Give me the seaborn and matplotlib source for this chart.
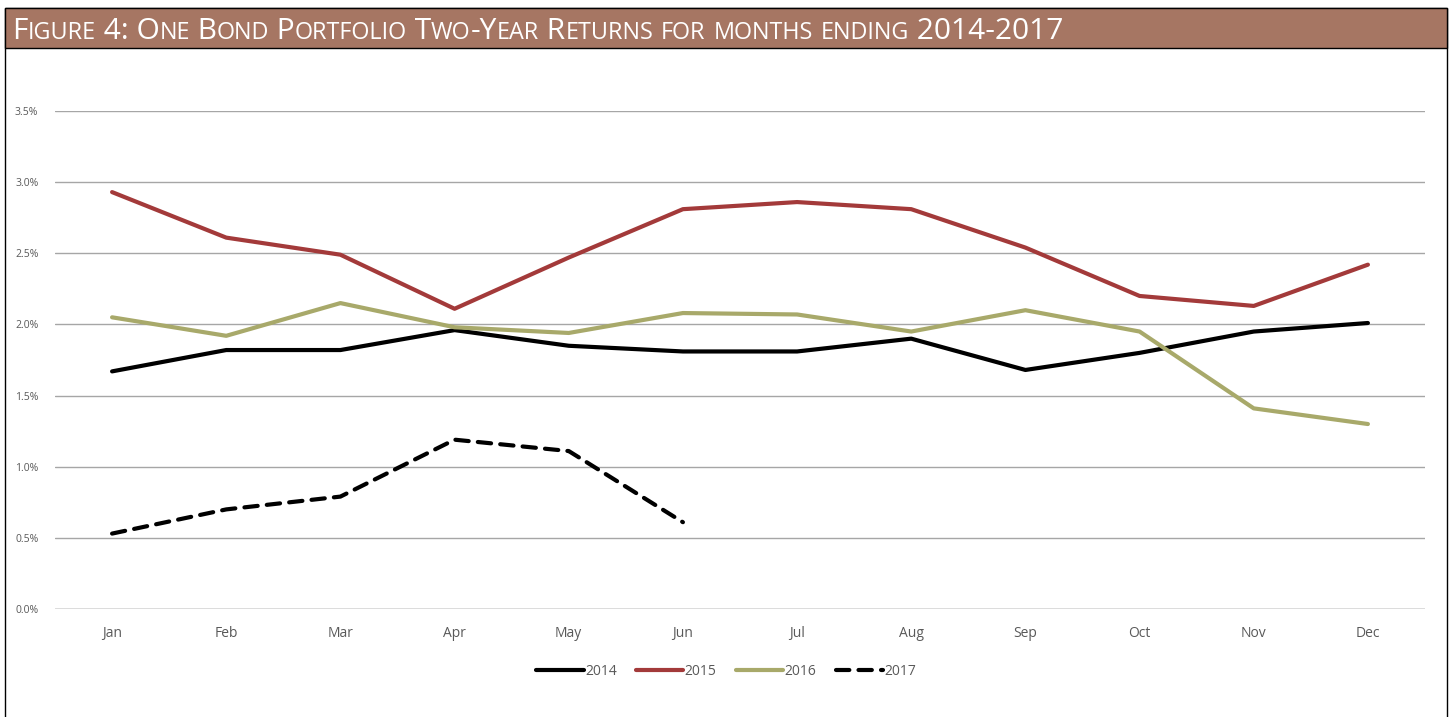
import pandas as pd
import matplotlib.pyplot as plt
import seaborn as sns
from matplotlib.patches import Rectangle
from matplotlib.ticker import FuncFormatter

# Data (two-year returns, %)
months = ["Jan", "Feb", "Mar", "Apr", "May", "Jun", "Jul", "Aug", "Sep", "Oct", "Nov", "Dec"]
r2014 = [1.67, 1.82, 1.82, 1.96, 1.85, 1.81, 1.81, 1.90, 1.68, 1.80, 1.95, 2.01]
r2015 = [2.93, 2.61, 2.49, 2.11, 2.47, 2.81, 2.86, 2.81, 2.54, 2.20, 2.13, 2.42]
r2016 = [2.05, 1.92, 2.15, 1.98, 1.94, 2.08, 2.07, 1.95, 2.10, 1.95, 1.41, 1.30]
r2017 = [0.53, 0.70, 0.79, 1.19, 1.11, 0.61]
years = ["2014", "2015", "2016", "2017"]

frames = []
for yr, vals in zip(years, [r2014, r2015, r2016, r2017]):
    frames.append(pd.DataFrame({"month": months[:len(vals)], "ret": vals, "year": yr}))
df = pd.concat(frames, ignore_index=True)

sns.set_style("white")
plt.rcParams["font.family"] = ["Open Sans", "DejaVu Sans"]

fig = plt.figure(figsize=(14.49, 7.17), dpi=100)
ax = fig.add_axes([55 / 1449, 1 - 609 / 717, 1370 / 1449, 498 / 717])

palette = {"2014": "#000000", "2015": "#A33A3A", "2016": "#A8A96A", "2017": "#000000"}
dashes = {"2014": "", "2015": "", "2016": "", "2017": (3.2, 2.2)}
sns.lineplot(data=df, x="month", y="ret", hue="year", style="year", palette=palette,
             dashes=dashes, linewidth=3, sort=False, ax=ax, legend=True)
for ln in ax.lines:
    ln.set_solid_capstyle("round")
    ln.set_dash_capstyle("round")
    ln.set_solid_joinstyle("round")

ax.set_xlim(-0.5, 11.5)
ax.set_ylim(0, 3.5)
ax.set_yticks([0, 0.5, 1.0, 1.5, 2.0, 2.5, 3.0, 3.5])
ax.yaxis.set_major_formatter(FuncFormatter(lambda v, p: f"{v:.1f}%"))
ax.grid(axis="y", color="#A6A6A6", linewidth=1)
ax.set_axisbelow(True)
for s in ax.spines.values():
    s.set_visible(False)
ax.axhline(0, color="#D9D9D9", linewidth=1.2, zorder=1)
ax.set_xlabel("")
ax.set_ylabel("")
ax.tick_params(axis="x", labelsize=10, colors="#595959", length=0, pad=12)
ax.tick_params(axis="y", labelsize=7.5, colors="#595959", length=0, pad=12)

handles, labels = ax.get_legend_handles_labels()
leg = ax.legend(handles, labels, loc="center", bbox_to_anchor=(0.49, -0.125), ncol=4,
                frameon=False, fontsize=10, handlelength=3.4, handletextpad=0.1,
                columnspacing=1.4, labelcolor="#595959")
for h in leg.get_lines():
    h.set_dash_capstyle("round")
    h.set_solid_capstyle("round")

# Frame and title bar
fig.patches.append(Rectangle((5 / 1449, -0.01), 1442 / 1449, 1 - 8 / 717 + 0.01,
                             transform=fig.transFigure, fill=False, edgecolor="#000000",
                             linewidth=1))
fig.patches.append(Rectangle((5 / 1449, 1 - 48 / 717), 1442 / 1449, 40 / 717,
                             transform=fig.transFigure, facecolor="#A67663",
                             edgecolor="#000000", linewidth=1))

# Title in small caps, built piece by piece
title = "Figure 4: One Bond Portfolio Two-Year Returns for months ending 2014-2017"
renderer = fig.canvas.get_renderer()
x = 12 / 1449
y = 1 - 39 / 717
big, small = 21.5, 16.8
runs = []
for ch in title:
    txt, sz = (ch.upper(), small) if ch.islower() else (ch, big)
    if runs and runs[-1][1] == sz:
        runs[-1][0] += txt
    else:
        runs.append([txt, sz])
for txt, sz in runs:
    t = fig.text(x, y, txt, fontsize=sz, color="white", ha="left", va="baseline")
    bb = t.get_window_extent(renderer=renderer)
    x += bb.width / fig.bbox.width

fig.savefig("out.png", dpi=100)
